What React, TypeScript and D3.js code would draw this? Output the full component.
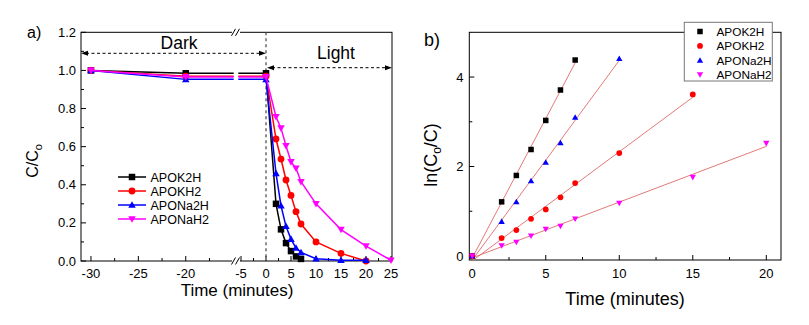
import React from 'react';
import * as d3 from 'd3';

// ---- panel a) C/Co vs time (dark + light) ----
const seriesNames = ['APOK2H', 'APOKH2', 'APONa2H', 'APONaH2'];
const seriesColors = ['#000000', '#ff0000', '#0000ff', '#ff00ff'];
const seriesShapes = ['square', 'circle', 'up', 'down'];

const timeK2H = [-30, -20, 0, 2, 3, 4, 5, 6, 7];
const valK2H = [1.0, 0.985, 0.985, 0.30, 0.166, 0.094, 0.052, 0.024, 0.011];
const timeKH2 = [-30, -20, 0, 2, 3, 4, 5, 6, 7, 10, 15, 20];
const valKH2 = [1.0, 0.97, 0.97, 0.64, 0.535, 0.425, 0.344, 0.259, 0.194, 0.1, 0.04, 0.0];
const timeNa2H = [-30, -20, 0, 2, 3, 4, 5, 6, 7, 10, 15, 20];
const valNa2H = [1.0, 0.953, 0.953, 0.46, 0.29, 0.182, 0.115, 0.068, 0.045, 0.012, 0.004, 0.004];
const timeNaH2 = [-30, -20, 0, 2, 3, 4, 5, 6, 7, 10, 15, 20, 25];
const valNaH2 = [1.0, 0.966, 0.966, 0.757, 0.697, 0.605, 0.52, 0.487, 0.416, 0.3, 0.165, 0.078, 0.004];

const yTicksA = [0, 0.2, 0.4, 0.6, 0.8, 1.0, 1.2];
const yMinorA = [0.1, 0.3, 0.5, 0.7, 0.9, 1.1];
const xTicksDark = [-30, -25, -20];
const xMinorDark = [-27.5, -22.5, -17.5];
const xTicksLight = [-5, 0, 5, 10, 15, 20, 25];
const xMinorLight = [-2.5, 2.5, 7.5, 12.5, 17.5, 22.5];

// ---- panel b) ln(Co/C) vs time ----
const kTimeK2H = [0, 2, 3, 4, 5, 6, 7];
const lnK2H = [0, 1.21, 1.8, 2.38, 3.03, 3.71, 4.38];
const kTimeKH2 = [0, 2, 3, 4, 5, 6, 7, 10, 15];
const lnKH2 = [0, 0.4, 0.58, 0.83, 1.04, 1.31, 1.63, 2.3, 3.61];
const kTimeNa2H = [0, 2, 3, 4, 5, 6, 7, 10];
const lnNa2H = [0, 0.77, 1.21, 1.68, 2.09, 2.53, 3.1, 4.41];
const kTimeNaH2 = [0, 2, 3, 4, 5, 6, 7, 10, 15, 20];
const lnNaH2 = [0, 0.23, 0.31, 0.45, 0.6, 0.67, 0.83, 1.18, 1.76, 2.52];

const yTicksB = [0, 2, 4];
const yMinorB = [1, 3];
const xTicksB = [0, 5, 10, 15, 20];
const xMinorB = [2.5, 7.5, 12.5, 17.5];

const FONT = '"Liberation Sans", Arial, sans-serif';

const Marker = ({ shape, x, y, size, color }) => {
  const h = size / 2;
  if (shape === 'square') return <rect x={x - h} y={y - h} width={size} height={size} fill={color} />;
  if (shape === 'circle') return <circle cx={x} cy={y} r={h * 1.05} fill={color} />;
  const t = h * 1.15;
  if (shape === 'up') return <path d={`M${x},${y - t}L${x + t},${y + t * 0.75}L${x - t},${y + t * 0.75}Z`} fill={color} />;
  return <path d={`M${x},${y + t}L${x + t},${y - t * 0.75}L${x - t},${y - t * 0.75}Z`} fill={color} />;
};

const fit = (xs, ys) => {
  const mx = d3.mean(xs), my = d3.mean(ys);
  const sxy = d3.sum(xs, (x, i) => (x - mx) * (ys[i] - my));
  const sxx = d3.sum(xs, x => (x - mx) * (x - mx));
  const k = sxy / sxx;
  return { k, b: my - k * mx };
};

export default function App() {
  // panel a scales (broken x axis)
  const breakX = 236;
  const xL = d3.scaleLinear().domain([-31.05, -14.7]).range([81, breakX]);
  const xR = d3.scaleLinear().domain([-6, 25.2]).range([breakX, 392]);
  const yA = d3.scaleLinear().domain([0, 1.2]).range([261, 32.3]);
  const xA = t => (t <= -10 ? xL(t) : xR(t));

  // panel b scales
  const xB = d3.scaleLinear().domain([-0.2, 21]).range([469.3, 781]);
  const yB = d3.scaleLinear().domain([-0.09, 5.0]).range([260, 32.3]);

  const seriesA = [
    [timeK2H, valK2H], [timeKH2, valKH2], [timeNa2H, valNa2H], [timeNaH2, valNaH2],
  ];
  const seriesB = [
    [kTimeK2H, lnK2H], [kTimeKH2, lnKH2], [kTimeNa2H, lnNa2H], [kTimeNaH2, lnNaH2],
  ];

  const line = d3.line();
  const gap = 2.3;
  const fmt = d3.format('.1f');

  const dash = (x1, x2, y) => (
    <g>
      <line x1={x1 + 5} x2={x2 - 5} y1={y} y2={y} stroke="#000" strokeWidth={1} strokeDasharray="3,2.5" />
      <path d={`M${x1},${y}L${x1 + 7},${y - 2.5}L${x1 + 7},${y + 2.5}Z`} fill="#000" />
      <path d={`M${x2},${y}L${x2 - 7},${y - 2.5}L${x2 - 7},${y + 2.5}Z`} fill="#000" />
    </g>
  );

  const slashes = (x, y) => (
    <g stroke="#000" strokeWidth={1}>
      <rect x={x - 4} y={y - 1.5} width={8} height={3} fill="#fff" stroke="none" />
      <line x1={x - 4.5} y1={y + 3.5} x2={x - 0.5} y2={y - 3.5} />
      <line x1={x - 0.5} y1={y + 3.5} x2={x + 3.5} y2={y - 3.5} />
    </g>
  );

  return (
    <svg width={809} height={325} style={{ position: 'absolute', left: 0, top: 0, background: '#fff' }} fontFamily={FONT}>
      <rect width={809} height={325} fill="#fff" />

      {/* ===== panel a ===== */}
      <text x={27} y={38} fontSize={16}>a)</text>

      {/* y ticks */}
      {yTicksA.map(v => (
        <g key={'ya' + v}>
          <line x1={81} x2={86} y1={yA(v)} y2={yA(v)} stroke="#000" />
          <text x={76} y={yA(v) + 4.6} fontSize={13} textAnchor="end">{fmt(v)}</text>
        </g>
      ))}
      {yMinorA.map(v => (
        <line key={'yma' + v} x1={81} x2={84} y1={yA(v)} y2={yA(v)} stroke="#000" />
      ))}

      {/* x ticks */}
      {xTicksDark.map(t => (
        <g key={'xd' + t}>
          <line x1={xL(t)} x2={xL(t)} y1={261} y2={256} stroke="#000" />
          <text x={xL(t)} y={278} fontSize={13} textAnchor="middle">{t}</text>
        </g>
      ))}
      {xMinorDark.map(t => (
        <line key={'xmd' + t} x1={xL(t)} x2={xL(t)} y1={261} y2={258} stroke="#000" />
      ))}
      {xTicksLight.map(t => (
        <g key={'xl' + t}>
          <line x1={xR(t)} x2={xR(t)} y1={261} y2={256} stroke="#000" />
          <text x={xR(t)} y={278} fontSize={13} textAnchor="middle">{t}</text>
        </g>
      ))}
      {xMinorLight.map(t => (
        <line key={'xml' + t} x1={xR(t)} x2={xR(t)} y1={261} y2={258} stroke="#000" />
      ))}

      {/* frame */}
      <rect x={81} y={32.3} width={392 - 81} height={261 - 32.3} fill="none" stroke="#000" strokeWidth={1} />

      {/* dark / light divider */}
      <line x1={xR(0)} x2={xR(0)} y1={32.3} y2={261} stroke="#444" strokeWidth={1.2} strokeDasharray="3,3" />
      {dash(81, xR(0), 53.3)}
      {dash(xR(0) + 1, 392, 67.7)}
      <text x={179} y={49} fontSize={17.5} textAnchor="middle">Dark</text>
      <text x={336} y={58.5} fontSize={17.5} textAnchor="middle">Light</text>

      {/* series */}
      {seriesA.map(([ts, vs], si) => {
        const seg1 = [[xA(ts[0]), yA(vs[0])], [xA(ts[1]), yA(vs[1])], [breakX - gap, yA(vs[1])]];
        const seg2 = [[breakX + gap, yA(vs[2])], ...ts.slice(2).map((t, i) => [xA(t), yA(vs[i + 2])])];
        return (
          <g key={'sa' + si}>
            <path d={line(seg1)} fill="none" stroke={seriesColors[si]} strokeWidth={1.5} />
            <path d={line(seg2)} fill="none" stroke={seriesColors[si]} strokeWidth={1.5} />
            {ts.map((t, i) => (
              <Marker key={i} shape={seriesShapes[si]} x={xA(t)} y={yA(vs[i])} size={6.5} color={seriesColors[si]} />
            ))}
          </g>
        );
      })}

      {slashes(breakX, 32.3)}
      {slashes(breakX, 261)}

      {/* legend a */}
      {seriesNames.map((n, i) => {
        const y = 177 + i * 14;
        return (
          <g key={'la' + n}>
            <line x1={118} x2={146} y1={y} y2={y} stroke={seriesColors[i]} strokeWidth={1.5} />
            <Marker shape={seriesShapes[i]} x={132} y={y} size={6.5} color={seriesColors[i]} />
            <text x={150.5} y={y + 4.5} fontSize={12.5}>{n}</text>
          </g>
        );
      })}

      <text x={237} y={296} fontSize={17} textAnchor="middle">Time (minutes)</text>
      <text transform="translate(38,161) rotate(-90)" fontSize={16} textAnchor="middle">
        C/C<tspan fontSize={11} dy={4}>o</tspan>
      </text>

      {/* ===== panel b ===== */}
      <text x={424} y={46} fontSize={18}>b)</text>

      {yTicksB.map(v => (
        <g key={'yb' + v}>
          <line x1={469.3} x2={474.3} y1={yB(v)} y2={yB(v)} stroke="#000" />
          <text x={463.5} y={yB(v) + 4.6} fontSize={13} textAnchor="end">{v}</text>
        </g>
      ))}
      {yMinorB.map(v => (
        <line key={'ymb' + v} x1={469.3} x2={472.3} y1={yB(v)} y2={yB(v)} stroke="#000" />
      ))}
      {xTicksB.map(t => (
        <g key={'xb' + t}>
          <line x1={xB(t)} x2={xB(t)} y1={260} y2={255} stroke="#000" />
          <text x={xB(t)} y={278} fontSize={13} textAnchor="middle">{t}</text>
        </g>
      ))}
      {xMinorB.map(t => (
        <line key={'xmb' + t} x1={xB(t)} x2={xB(t)} y1={260} y2={257} stroke="#000" />
      ))}

      <rect x={469.3} y={32.3} width={781 - 469.3} height={260 - 32.3} fill="none" stroke="#000" strokeWidth={1} />

      {/* fit lines */}
      {seriesB.map(([ts, vs], si) => {
        const { k, b } = fit(ts, vs);
        const t1 = d3.max(ts);
        return (
          <line key={'fb' + si} x1={xB(0)} y1={yB(b)} x2={xB(t1)} y2={yB(k * t1 + b)} stroke="#e06a6a" strokeWidth={0.9} />
        );
      })}
      {seriesB.map(([ts, vs], si) => (
        <g key={'sb' + si}>
          {ts.map((t, i) => (
            <Marker key={i} shape={seriesShapes[si]} x={xB(t)} y={yB(vs[i])} size={5.5} color={seriesColors[si]} />
          ))}
        </g>
      ))}

      {/* legend b */}
      <rect x={684.3} y={22.3} width={88} height={58.7} fill="#fff" stroke="#777" strokeWidth={1} />
      {seriesNames.map((n, i) => {
        const y = 31.5 + i * 14.4;
        return (
          <g key={'lb' + n}>
            <Marker shape={seriesShapes[i]} x={700} y={y} size={5.5} color={seriesColors[i]} />
            <text x={716.5} y={y + 4.2} fontSize={11.8}>{n}</text>
          </g>
        );
      })}

      <text x={625} y={305} fontSize={18} textAnchor="middle">Time (minutes)</text>
      <text transform="translate(437,155) rotate(-90)" fontSize={18} textAnchor="middle">
        ln(C<tspan fontSize={12} dy={4}>o</tspan><tspan dy={-4}>/C)</tspan>
      </text>
    </svg>
  );
}
